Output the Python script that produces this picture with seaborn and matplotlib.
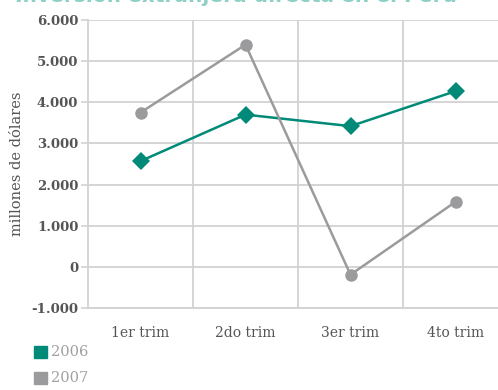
import matplotlib
matplotlib.use("Agg")
import matplotlib.pyplot as plt
import seaborn as sns
import pandas as pd

quarters = ["1er trim", "2do trim", "3er trim", "4to trim"]
values_2006 = [2570, 3700, 3420, 4270]
values_2007 = [3750, 5400, -190, 1580]
years = ["2006", "2007"]
y_ticks = [-1000, 0, 1000, 2000, 3000, 4000, 5000, 6000]
y_tick_labels = ["-1.000", "0", "1.000", "2.000", "3.000", "4.000", "5.000", "6.000"]
title = "Inversión extranjera directa en el Perú"

teal = "#008a77"
grey = "#9b9b9d"
grid_c = "#d2d2d2"
text_c = "#555555"

sns.set_theme(style="white")
plt.rcParams["font.family"] = ["DejaVu Serif"]

df = pd.DataFrame({
    "trim": quarters * 2,
    "valor": values_2006 + values_2007,
    "año": [years[0]] * 4 + [years[1]] * 4,
})

W, H = 498, 390
fig = plt.figure(figsize=(W / 100, H / 100), dpi=100)
ax = fig.add_axes([88 / W, 1 - 308 / H, 420 / W, 288 / H])

sns.lineplot(
    data=df, x="trim", y="valor", hue="año", style="año",
    palette={"2006": teal, "2007": grey},
    markers={"2006": "D", "2007": "o"}, dashes=False,
    markersize=9, linewidth=1.8, markeredgewidth=0,
    sort=False, legend=False, ax=ax,
)

ax.set_xlim(-0.5, 3.5)
ax.set_ylim(-1000, 6000)
ax.set_yticks(y_ticks)
ax.set_yticklabels(y_tick_labels, fontsize=9.5, fontweight="bold", color=text_c)
ax.set_xticks(range(len(quarters)))
ax.set_xticklabels(quarters, fontsize=10, color=text_c)

ax.grid(False)
for y in y_ticks:
    ax.axhline(y, color=grid_c, lw=1.3, zorder=0)
for x in [0.5, 1.5, 2.5]:
    ax.axvline(x, color=grid_c, lw=1.3, zorder=0)

for s in ["top", "right"]:
    ax.spines[s].set_visible(False)
for s in ["left", "bottom"]:
    ax.spines[s].set_color(grid_c)
    ax.spines[s].set_linewidth(1.3)

ax.tick_params(axis="y", length=5, width=1.2, color=grid_c, pad=2, left=True)
ax.tick_params(axis="x", length=0, pad=13)
ax.set_xlabel("")
ax.set_ylabel("millones de dólares", fontsize=10.5, color=text_c, labelpad=5)

# legend squares with year labels
for i, (yr, c) in enumerate(zip(years, [teal, grey])):
    yc = 1 - (352 + i * 26) / H
    fig.patches.append(plt.Rectangle((34 / W, yc - 6 / H), 13 / W, 12 / H,
                                     transform=fig.transFigure, color=c))
    fig.text(51 / W, yc, yr, fontsize=10.5, color="#a0a0a0", va="center", ha="left")

# heading sits above the top edge, only its lower strip shows
fig.text(15 / W, 1 - 2.5 / H, title, fontsize=14.5, fontweight="bold",
         color="#8fd0c6", va="baseline", ha="left", family="DejaVu Sans")

fig.savefig("out.png", dpi=100)
